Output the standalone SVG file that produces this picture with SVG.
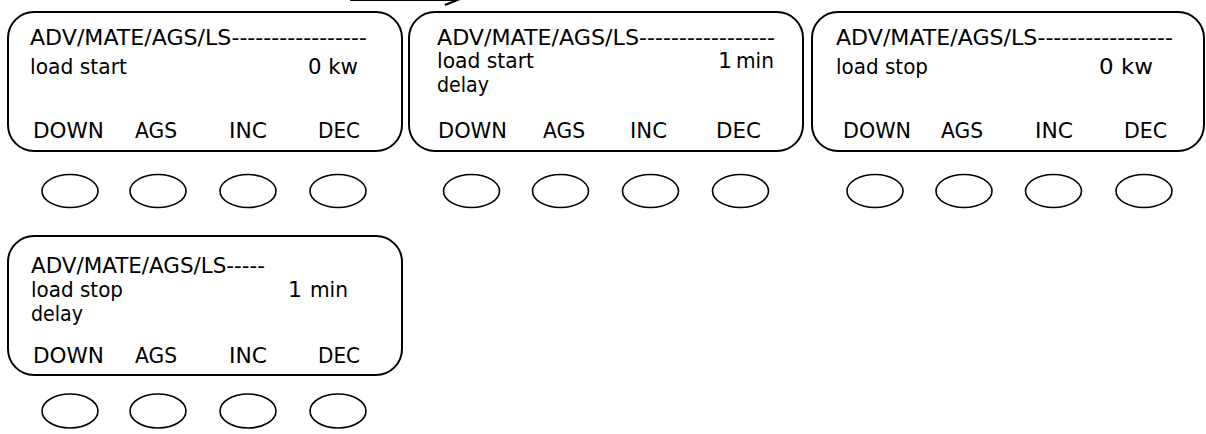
<svg xmlns="http://www.w3.org/2000/svg" width="1206" height="434" viewBox="0 0 1206 434">
<style>
.panel{fill:none;stroke:#000;stroke-width:2}
.btn{fill:none;stroke:#000;stroke-width:1.6}
text{font-family:"DejaVu Sans",Verdana,sans-serif;font-size:22px;fill:#000}
</style>
<rect width="1206" height="434" fill="#fff"/>
<g id="connectors">
<path d="M350,0 L456,0 M445,5 L460,-1" fill="none" stroke="#000" stroke-width="2"/>
</g>
<g id="panel1">
<rect class="panel" x="8" y="12" width="394" height="139" rx="26"/>
<text x="30" y="45" textLength="337" lengthAdjust="spacingAndGlyphs">ADV/MATE/AGS/LS-----------------</text>
<text x="30" y="74" textLength="97" lengthAdjust="spacingAndGlyphs">load start</text>
<text x="308" y="74" textLength="50" lengthAdjust="spacingAndGlyphs">0 kw</text>
<text x="33" y="138" textLength="71" lengthAdjust="spacingAndGlyphs">DOWN</text>
<text x="135" y="138" textLength="42" lengthAdjust="spacingAndGlyphs">AGS</text>
<text x="229" y="138" textLength="38" lengthAdjust="spacingAndGlyphs">INC</text>
<text x="318" y="138" textLength="42" lengthAdjust="spacingAndGlyphs">DEC</text>
<ellipse class="btn" cx="70" cy="191" rx="28" ry="16.5"/>
<ellipse class="btn" cx="158" cy="191" rx="28" ry="16.5"/>
<ellipse class="btn" cx="248" cy="191" rx="28" ry="16.5"/>
<ellipse class="btn" cx="338" cy="191" rx="28" ry="16.5"/>
</g>
<g id="panel2">
<rect class="panel" x="409" y="12" width="394" height="139" rx="26"/>
<text x="437" y="45" textLength="338" lengthAdjust="spacingAndGlyphs">ADV/MATE/AGS/LS-----------------</text>
<text x="437" y="68" textLength="97" lengthAdjust="spacingAndGlyphs">load start</text>
<text x="437" y="92" textLength="52" lengthAdjust="spacingAndGlyphs">delay</text>
<text y="68"><tspan x="718">1</tspan><tspan x="736" textLength="38" lengthAdjust="spacingAndGlyphs">min</tspan></text>
<text x="438" y="138" textLength="69" lengthAdjust="spacingAndGlyphs">DOWN</text>
<text x="543" y="138" textLength="42" lengthAdjust="spacingAndGlyphs">AGS</text>
<text x="630" y="138" textLength="37" lengthAdjust="spacingAndGlyphs">INC</text>
<text x="716" y="138" textLength="45" lengthAdjust="spacingAndGlyphs">DEC</text>
<ellipse class="btn" cx="471.5" cy="191" rx="28" ry="16.5"/>
<ellipse class="btn" cx="560.5" cy="191" rx="28" ry="16.5"/>
<ellipse class="btn" cx="650.5" cy="191" rx="28" ry="16.5"/>
<ellipse class="btn" cx="740.5" cy="191" rx="28" ry="16.5"/>
</g>
<g id="panel3">
<rect class="panel" x="812" y="12" width="392" height="139" rx="26"/>
<text x="836" y="45" textLength="337" lengthAdjust="spacingAndGlyphs">ADV/MATE/AGS/LS-----------------</text>
<text x="836" y="74" textLength="92" lengthAdjust="spacingAndGlyphs">load stop</text>
<text x="1099" y="74" textLength="54" lengthAdjust="spacingAndGlyphs">0 kw</text>
<text x="843" y="138" textLength="68" lengthAdjust="spacingAndGlyphs">DOWN</text>
<text x="941" y="138" textLength="42" lengthAdjust="spacingAndGlyphs">AGS</text>
<text x="1035" y="138" textLength="38" lengthAdjust="spacingAndGlyphs">INC</text>
<text x="1124" y="138" textLength="43" lengthAdjust="spacingAndGlyphs">DEC</text>
<ellipse class="btn" cx="875" cy="191" rx="28" ry="16.5"/>
<ellipse class="btn" cx="964" cy="191" rx="28" ry="16.5"/>
<ellipse class="btn" cx="1053.5" cy="191" rx="28" ry="16.5"/>
<ellipse class="btn" cx="1144" cy="191" rx="28" ry="16.5"/>
</g>
<g id="panel4">
<rect class="panel" x="8" y="236" width="394" height="139" rx="26"/>
<text x="31" y="273" textLength="234" lengthAdjust="spacingAndGlyphs">ADV/MATE/AGS/LS-----</text>
<text x="31" y="297" textLength="92" lengthAdjust="spacingAndGlyphs">load stop</text>
<text x="31" y="321" textLength="52" lengthAdjust="spacingAndGlyphs">delay</text>
<text y="297"><tspan x="288">1</tspan><tspan x="310" textLength="38" lengthAdjust="spacingAndGlyphs">min</tspan></text>
<text x="33" y="363" textLength="71" lengthAdjust="spacingAndGlyphs">DOWN</text>
<text x="135" y="363" textLength="42" lengthAdjust="spacingAndGlyphs">AGS</text>
<text x="229" y="363" textLength="38" lengthAdjust="spacingAndGlyphs">INC</text>
<text x="318" y="363" textLength="42" lengthAdjust="spacingAndGlyphs">DEC</text>
<ellipse class="btn" cx="70" cy="411" rx="28" ry="17"/>
<ellipse class="btn" cx="158" cy="411" rx="28" ry="17"/>
<ellipse class="btn" cx="248" cy="411" rx="28" ry="17"/>
<ellipse class="btn" cx="338" cy="411" rx="28" ry="17"/>
</g>
</svg>
